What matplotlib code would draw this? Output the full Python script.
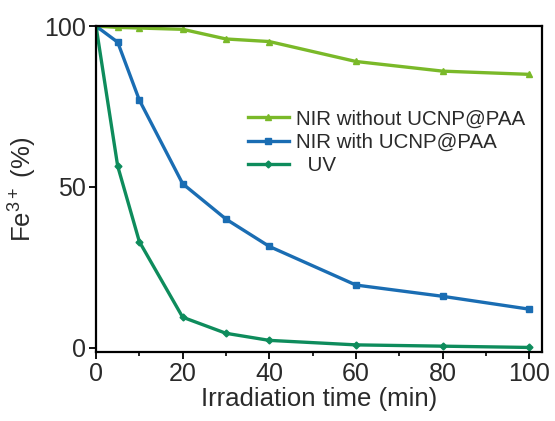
import matplotlib
matplotlib.use("Agg")
import matplotlib.pyplot as plt
from matplotlib.ticker import MultipleLocator

plt.rcParams["font.family"] = ["Liberation Sans", "DejaVu Sans"]
plt.rcParams["mathtext.fontset"] = "custom"
plt.rcParams["mathtext.rm"] = "Liberation Sans"
plt.rcParams["mathtext.it"] = "Liberation Sans:italic"

# ---- data -------------------------------------------------------------------
time_min = [0, 5, 10, 20, 30, 40, 60, 80, 100]
nir_without = [100, 99.6, 99.4, 99.0, 96.0, 95.2, 89.0, 86.0, 85.0]
nir_with = [100, 95.0, 77.0, 51.0, 40.0, 31.5, 19.5, 16.0, 12.0]
uv = [100, 56.5, 33.0, 9.5, 4.5, 2.3, 0.9, 0.5, 0.1]

labels = ["NIR without UCNP@PAA", "NIR with UCNP@PAA", "  UV"]
colors = ["#7ab929", "#1a6db3", "#0e8c5c"]
TXT = "#2a2a2a"

fig = plt.figure(figsize=(5.55, 4.21), dpi=100)
ax = fig.add_axes([0.173, 0.164, 0.804, 0.774])

ax.plot(time_min, nir_without, color=colors[0], lw=2.4, marker="^", ms=5,
        label=labels[0])
ax.plot(time_min, nir_with, color=colors[1], lw=2.4, marker="s", ms=4.5,
        label=labels[1])
ax.plot(time_min, uv, color=colors[2], lw=2.4, marker="D", ms=3.5,
        label=labels[2])

ax.set_xlim(0, 103)
ax.set_ylim(-1.3, 100)
ax.xaxis.set_major_locator(MultipleLocator(20))
ax.xaxis.set_minor_locator(MultipleLocator(10))
ax.yaxis.set_major_locator(MultipleLocator(50))
ax.tick_params(axis="both", which="major", direction="out", length=5,
               width=1.3, labelsize=18, labelcolor=TXT, pad=2)
ax.tick_params(axis="x", which="minor", direction="out", length=3, width=1.2)
ax.tick_params(axis="y", which="minor", left=False)
for sp in ax.spines.values():
    sp.set_linewidth(1.6)

ax.set_xlabel("Irradiation time (min)", fontsize=18.5, color=TXT, labelpad=1)
ax.set_ylabel("Fe$^{3+}$ (%)", fontsize=18.5, color=TXT, labelpad=4)

ax.legend(loc="upper left", bbox_to_anchor=(0.322, 0.77), frameon=False,
          fontsize=14.8, handlelength=2.0, handletextpad=0.35,
          labelspacing=0.22, borderaxespad=0, labelcolor=TXT)

fig.savefig("out.png", dpi=100)
